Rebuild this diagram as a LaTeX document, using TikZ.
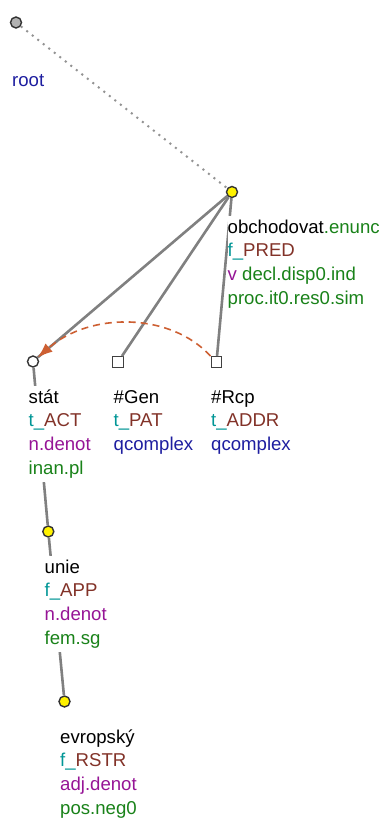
\documentclass[tikz,border=0pt]{standalone}
\usepackage{fontspec}
\setmainfont{Liberation Sans}
\usetikzlibrary{arrows.meta}

\definecolor{tgreen}{RGB}{25,130,25}
\definecolor{tteal}{RGB}{0,150,150}
\definecolor{tbrown}{RGB}{130,50,40}
\definecolor{tpurple}{RGB}{150,20,150}
\definecolor{tblue}{RGB}{30,30,160}
\definecolor{edgegray}{RGB}{128,128,128}
\definecolor{corefcol}{RGB}{205,95,50}

% functor line: teal prefix, brown value
\newcommand{\fnc}[2]{\textcolor{tteal}{#1\_}\textcolor{tbrown}{#2}}

\begin{document}
\begin{tikzpicture}[x=1pt, y=-1pt,
  tnode/.style={draw=black!80, line width=1.4pt, circle, inner sep=0pt, minimum size=11pt},
  gnode/.style={draw=black!75, line width=1.4pt, rectangle, inner sep=0pt, minimum size=10.5pt, fill=white},
  edge/.style={draw=edgegray, line width=2.6pt},
  lbl/.style={anchor=base west, inner sep=0pt, fill=white, font=\fontsize{18.6}{23.8}\selectfont}]
\useasboundingbox (0,0) rectangle (389,821);

\node[tnode, fill=black!30] (root) at (16,22.5) {};
\node[tnode, fill=yellow] (obch) at (232,192) {};
\node[tnode, fill=white] (stat) at (33,361.5) {};
\node[gnode] (gen) at (118,362) {};
\node[gnode] (rcp) at (216.5,362) {};
\node[tnode, fill=yellow] (unie) at (48.3,531.5) {};
\node[tnode, fill=yellow] (evr) at (64.5,701.5) {};

\draw[edgegray!85, line width=2pt, dash pattern=on 2pt off 5pt] (root) -- (obch);
\draw[edge] (obch) -- (stat);
\draw[edge] (obch) -- (gen);
\draw[edge] (obch) -- (rcp);
\draw[edge] (stat) -- (unie);
\draw[edge] (unie) -- (evr);
\draw[corefcol, line width=1.6pt, dash pattern=on 7pt off 5pt, -{Latex[length=15pt, width=11pt]}]
  (rcp.north west) .. controls (170,312) and (90,312) .. (stat);

\node[lbl, text=tblue] (rootlbl) at (12,87) {root};
\node[lbl] (obchlbl) at (227.5,233) {\begin{tabular}[t]{@{}l@{}}
  obchodovat\textcolor{tgreen}{.enunc}\\
  \fnc{f}{PRED}\\
  \textcolor{tpurple}{v} \textcolor{tgreen}{decl.disp0.ind}\\
  \textcolor{tgreen}{proc.it0.res0.sim}\end{tabular}};
\node[lbl] (statlbl) at (28.5,403) {\begin{tabular}[t]{@{}l@{}}
  stát\\
  \fnc{t}{ACT}\\
  \textcolor{tpurple}{n.denot}\\
  \textcolor{tgreen}{inan.pl}\end{tabular}};
\node[lbl] (genlbl) at (113.5,403) {\begin{tabular}[t]{@{}l@{}}
  \#Gen\\
  \fnc{t}{PAT}\\
  \textcolor{tblue}{qcomplex}\end{tabular}};
\node[lbl] (rcplbl) at (211,403) {\begin{tabular}[t]{@{}l@{}}
  \#Rcp\\
  \fnc{t}{ADDR}\\
  \textcolor{tblue}{qcomplex}\end{tabular}};
\node[lbl] (unielbl) at (44.5,573) {\begin{tabular}[t]{@{}l@{}}
  unie\\
  \fnc{f}{APP}\\
  \textcolor{tpurple}{n.denot}\\
  \textcolor{tgreen}{fem.sg}\end{tabular}};
\node[lbl] (evrlbl) at (60,743) {\begin{tabular}[t]{@{}l@{}}
  evropský\\
  \fnc{f}{RSTR}\\
  \textcolor{tpurple}{adj.denot}\\
  \textcolor{tgreen}{pos.neg0}\end{tabular}};
\end{tikzpicture}
\end{document}
